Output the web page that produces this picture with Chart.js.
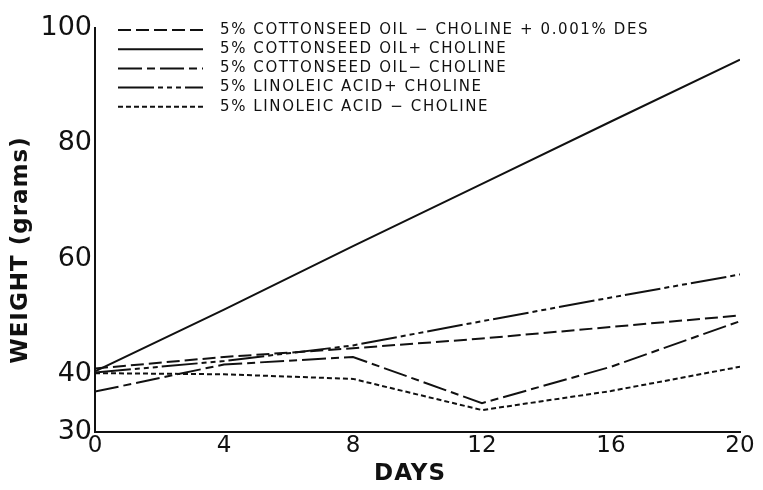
<!DOCTYPE html>
<html>
<head>
<meta charset="utf-8">
<script src="https://cdn.jsdelivr.net/npm/chart.js@4"></script>
<style>
  html, body { margin: 0; padding: 0; background: #fff; }
  #wrap { width: 763px; height: 490px; }
</style>
</head>
<body>
<div id="wrap"><canvas id="chart" width="763" height="490"></canvas></div>
<script>
const days = [0, 4, 8, 12, 16, 20];
const yTicks = [30, 40, 60, 80, 100];

const cottonDes = [41, 43, 44.5, 46.2, 48.2, 50.2];
const cottonPlus = [40.5, 51.2, 62.2, 73, 83.8, 94.5];
const cottonMinus = [37, 41.7, 43, 35, 41.3, 49.2];
const linoleicPlus = [40.3, 42.3, 45, 49.2, 53.3, 57.3];
const linoleicMinus = [40.2, 40, 39.2, 33.8, 37.1, 41.3];

const labels = [
  "5% COTTONSEED OIL \u2212 CHOLINE + 0.001% DES",
  "5% COTTONSEED OIL+ CHOLINE",
  "5% COTTONSEED OIL\u2212 CHOLINE",
  "5% LINOLEIC ACID+ CHOLINE",
  "5% LINOLEIC ACID \u2212 CHOLINE"
];
const dashes = [
  [13, 5],
  [],
  [24, 5, 8, 5],
  [36, 4, 5, 4, 5, 4, 5, 4],
  [5, 3]
];

const font = "'DejaVu Sans', sans-serif";

// legend inside the plot + axis titles placed like the original
const decorPlugin = {
  id: "decor",
  afterDraw(chart) {
    const ctx = chart.ctx;
    ctx.save();
    ctx.strokeStyle = "#111";
    ctx.fillStyle = "#111";
    ctx.lineWidth = 2;
    ctx.font = "15px " + font;
    ctx.textBaseline = "middle";
    ctx.letterSpacing = "1.6px";
    chart.data.datasets.forEach((ds, i) => {
      const y = 30 + i * 19.2;
      ctx.setLineDash(ds.borderDash || []);
      ctx.beginPath();
      ctx.moveTo(118, y);
      ctx.lineTo(203, y);
      ctx.stroke();
      ctx.setLineDash([]);
      ctx.fillText(ds.label, 220, y);
    });

    ctx.textAlign = "center";
    ctx.font = "bold 23px " + font;
    ctx.letterSpacing = "1px";
    ctx.fillText("DAYS", 410, 474);

    ctx.translate(21, 250);
    ctx.rotate(-Math.PI / 2);
    ctx.fillText("WEIGHT (grams)", 0, 0);
    ctx.restore();
  }
};

const datasets = [cottonDes, cottonPlus, cottonMinus, linoleicPlus, linoleicMinus].map((d, i) => ({
  label: labels[i],
  data: d,
  borderColor: "#111",
  borderWidth: 2,
  borderDash: dashes[i],
  pointRadius: 0,
  tension: 0,
  fill: false
}));

new Chart(document.getElementById("chart"), {
  type: "line",
  data: { labels: days, datasets: datasets },
  options: {
    responsive: false,
    animation: false,
    layout: { padding: { top: 28, right: 23, left: 0, bottom: 0 } },
    plugins: { legend: { display: false }, tooltip: { enabled: false } },
    scales: {
      x: {
        type: "linear",
        min: 0,
        max: 20,
        afterBuildTicks: (s) => { s.ticks = days.map(v => ({ value: v })); },
        afterFit: (s) => { s.height = 58; },
        grid: { display: false, drawTicks: false },
        border: { display: true, color: "#111", width: 2 },
        ticks: { color: "#111", padding: 0, font: { family: font, size: 23 } }
      },
      y: {
        min: 30,
        max: 100,
        afterBuildTicks: (s) => { s.ticks = yTicks.map(v => ({ value: v })); },
        afterFit: (s) => { s.width = 95; },
        grid: { display: false, drawTicks: false },
        border: { display: true, color: "#111", width: 2 },
        ticks: { color: "#111", padding: 3, font: { family: font, size: 27 } }
      }
    }
  },
  plugins: [decorPlugin]
});
</script>
</body>
</html>
